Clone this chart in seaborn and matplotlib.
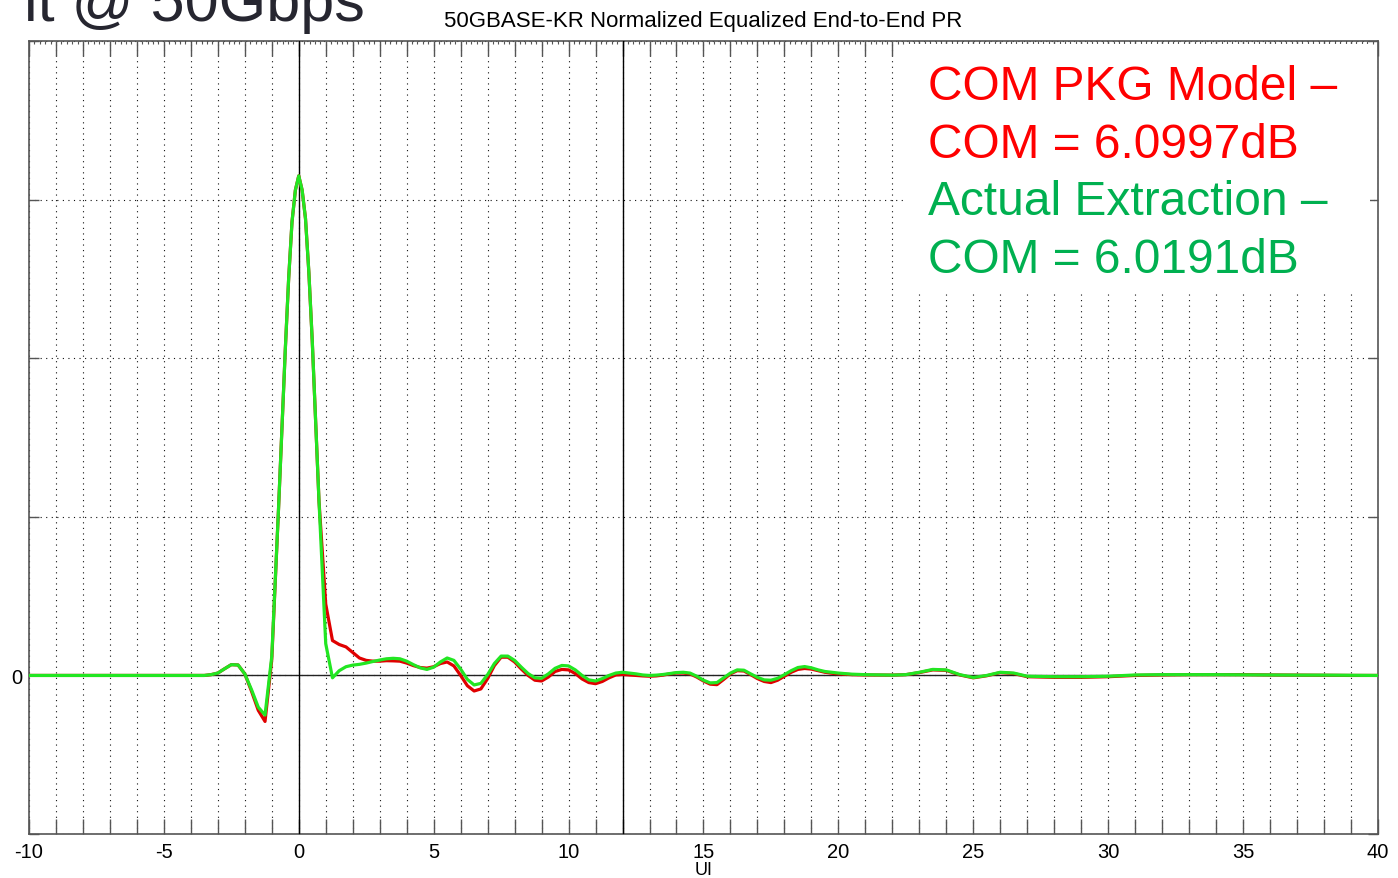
import matplotlib
matplotlib.use("Agg")
import matplotlib.pyplot as plt
from matplotlib.patches import Rectangle
from matplotlib.ticker import MultipleLocator
import numpy as np
import pandas as pd
import seaborn as sns

# UI positions (shared by both traces)
ui = [-10, -8, -6, -4,
      -3.5, -3.25, -3, -2.75, -2.5, -2.25, -2, -1.75, -1.5, -1.25,
      -1, -0.75, -0.5, -0.375, -0.25, -0.125, 0, 0.125, 0.25, 0.375, 0.5, 0.75, 1, 1.25,
      1.5, 1.75, 2, 2.25, 2.5, 2.75, 3, 3.25, 3.5, 3.75,
      4, 4.25, 4.5, 4.75, 5, 5.25, 5.5, 5.75, 6, 6.25,
      6.5, 6.75, 7, 7.25, 7.5, 7.75, 8, 8.25, 8.5, 8.75,
      9, 9.25, 9.5, 9.75, 10, 10.25, 10.5, 10.75, 11, 11.25,
      11.5, 11.75, 12, 12.25, 12.5, 12.75, 13, 13.25, 13.5, 13.75,
      14, 14.25, 14.5, 14.75, 15, 15.25, 15.5, 15.75, 16, 16.25,
      16.5, 16.75, 17, 17.25, 17.5, 17.75, 18, 18.25, 18.5, 18.75,
      19, 19.25, 19.5, 19.75, 20,
      20.5, 21,
      22, 22.5, 23, 23.5, 24, 24.5, 25, 25.5, 26, 26.5,
      27, 28, 29, 30, 31, 32, 33, 34, 35, 36, 37, 38, 39, 40]

# Actual extraction (green)
actual = [0, 0, 0, 0,
          0.0, 0.0005, 0.0015, 0.0042, 0.0068, 0.0066, 0.001, -0.009, -0.020, -0.025,
          0.012, 0.105, 0.205, 0.25, 0.286, 0.306, 0.315, 0.306, 0.288, 0.254, 0.211, 0.11, 0.02, -0.0015,
          0.003, 0.0055, 0.0065, 0.007, 0.0078, 0.0088, 0.0097, 0.0105, 0.0108, 0.0105,
          0.009, 0.0068, 0.0048, 0.0038, 0.0052, 0.0085, 0.011, 0.0095, 0.004, -0.0025,
          -0.006, -0.005, 0.0005, 0.0075, 0.0122, 0.0122, 0.0095, 0.0052, 0.0012, -0.0015,
          -0.0018, 0.001, 0.0045, 0.0063, 0.006, 0.0035, 0.0, -0.0028, -0.0035, -0.002,
          0.0, 0.0015, 0.002, 0.0015, 0.001, 0.0003, 0.0, 0.0002, 0.0006, 0.0012,
          0.0018, 0.002, 0.0015, -0.0005, -0.003, -0.0047, -0.0045, -0.0015, 0.0015, 0.0035,
          0.0033, 0.001, -0.0012, -0.0028, -0.003, -0.0018, 0.0005, 0.003, 0.005, 0.0056,
          0.0048, 0.0035, 0.0025, 0.002, 0.0015,
          0.0008, 0.0005,
          0.0002, 0.0005, 0.002, 0.0038, 0.0035, 0.0005, -0.0013, 0.0, 0.002, 0.0015,
          -0.0005, -0.0008, -0.0008, -0.0005, 0.0003, 0.0005, 0.0005, 0.0005, 0.0004,
          0.0003, 0.0002, 0.0002, 0.0001, 0.0]

# COM package model (red)
pkg_model = [0, 0, 0, 0,
             0.0, 0.0005, 0.0015, 0.0042, 0.0068, 0.0066, 0.001, -0.010, -0.022, -0.029,
             0.010, 0.105, 0.205, 0.25, 0.286, 0.306, 0.315, 0.306, 0.288, 0.254, 0.211, 0.11, 0.045, 0.022,
             0.0195, 0.018, 0.0145, 0.011, 0.0095, 0.009, 0.009, 0.0093, 0.0092, 0.009,
             0.0078, 0.0062, 0.005, 0.0046, 0.0055, 0.0075, 0.0085, 0.006, 0.0, -0.0065,
             -0.0098, -0.0085, -0.002, 0.0062, 0.0115, 0.0115, 0.0085, 0.004, 0.0, -0.003,
             -0.0035, -0.001, 0.0025, 0.0038, 0.0035, 0.0012, -0.0022, -0.0045, -0.0052, -0.0038,
             -0.0015, 0.0003, 0.0006, 0.0003, 0.0, -0.0003, -0.0005, -0.0003, 0.0002, 0.001,
             0.0015, 0.0015, 0.001, -0.001, -0.0035, -0.0055, -0.0058, -0.0025, 0.001, 0.003,
             0.0028, 0.0005, -0.002, -0.0038, -0.0045, -0.003, -0.0005, 0.002, 0.0038, 0.0044,
             0.004, 0.003, 0.002, 0.0014, 0.001,
             0.0005, 0.0003,
             0.0002, 0.0005, 0.0018, 0.0035, 0.0032, 0.0003, -0.0015, -0.0002, 0.0018, 0.0012,
             -0.0008, -0.0012, -0.0012, -0.0008, 0.0, 0.0003, 0.0005, 0.0005, 0.0005,
             0.0003, 0.0002, 0.0001, 0.0, 0.0]

assert len(ui) == len(actual) == len(pkg_model)

df = pd.DataFrame({
    "UI": ui * 2,
    "PR": pkg_model + actual,
    "trace": ["pkg"] * len(ui) + ["actual"] * len(ui),
})

sns.set_theme(style="white")
plt.rcParams['font.family'] = ['Liberation Sans', 'DejaVu Sans']

fig, ax = plt.subplots(figsize=(13.98, 8.79), dpi=100)
fig.subplots_adjust(left=0.0207, right=0.9857, bottom=0.050, top=0.9522)

sns.lineplot(data=df, x="UI", y="PR", hue="trace", hue_order=["pkg", "actual"],
             palette={"pkg": "#e00000", "actual": "#22e622"},
             linewidth=2.3, legend=False, ax=ax, zorder=4)

ax.set_xlim(-10, 40)
ax.set_ylim(-0.1, 0.4)

# ticks every UI, labels every 5
xt = list(range(-10, 41))
ax.set_xticks(xt)
ax.set_xticklabels([str(v) if v % 5 == 0 else "" for v in xt], fontsize=14.5, color="black")
yt = [-0.1, 0, 0.1, 0.2, 0.3, 0.4]
ax.set_yticks(yt)
ax.set_yticklabels(["" if v != 0 else "0" for v in yt], fontsize=14.5, color="black")
ax.xaxis.set_minor_locator(MultipleLocator(0.2))

ax.tick_params(axis="x", which="major", direction="in", length=11, width=1,
               color="#555555", top=True, bottom=True, pad=6)
ax.tick_params(axis="x", which="minor", direction="in", length=2.5, width=0.8,
               color="#555555", top=True, bottom=False)
ax.tick_params(axis="y", which="major", direction="in", length=7, width=1,
               color="#555555", left=True, right=True, pad=5)

ax.grid(True, which="major", color="#111111", linestyle=(0, (1, 4)), linewidth=0.8)
ax.axhline(0, color="#222222", linewidth=1.0, zorder=3)
ax.axvline(0, color="black", linewidth=1.0, zorder=3)
ax.axvline(12, color="black", linewidth=1.0, zorder=3)

for s in ax.spines.values():
    s.set_color("#555555")
    s.set_linewidth(1.2)

ax.set_xlabel("UI", fontsize=13, labelpad=0, color="black")
ax.set_ylabel("")
ax.set_title("50GBASE-KR Normalized Equalized End-to-End PR", fontsize=16, pad=11, color="black")

# white box behind the COM annotation
ax.add_patch(Rectangle((0.651, 0.685), 0.343, 0.311, transform=ax.transAxes,
                       facecolor="white", edgecolor="none", zorder=5))

W, H = 1398, 879
lines = [("COM PKG Model \u2013", "#ff0000", 100),
         ("COM = 6.0997dB", "#ff0000", 158),
         ("Actual Extraction \u2013", "#00b050", 215),
         ("COM = 6.0191dB", "#00b050", 273)]
for txt, col, base in lines:
    fig.text(928 / W, 1 - base / H, txt, color=col, fontsize=34.5,
             ha="left", va="baseline", zorder=6)

# slide title remnant cut off at the top
fig.text(365 / W, 1 - 21 / H, "it @ 50Gbps", color="#262630", fontsize=44,
         ha="right", va="baseline")

fig.savefig("out.png", dpi=100)
